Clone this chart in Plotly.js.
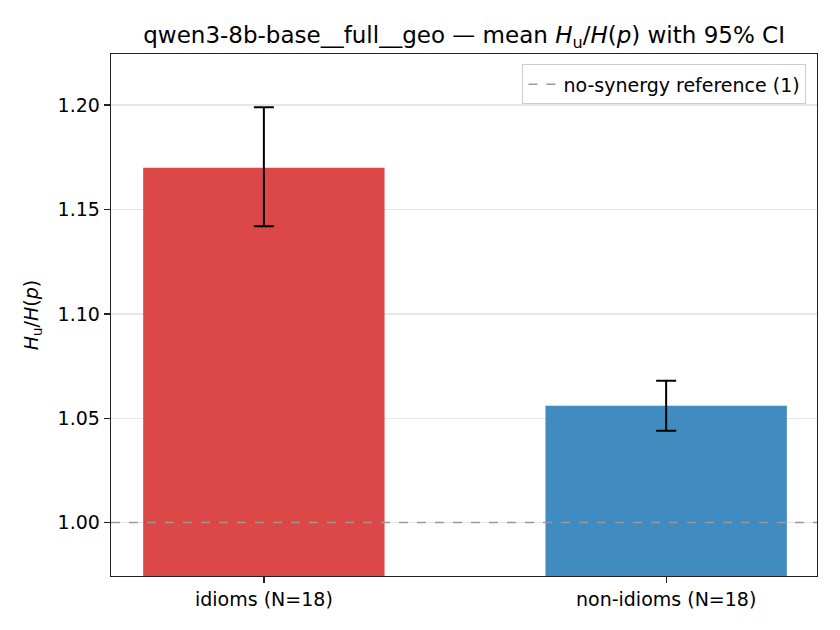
<!DOCTYPE html>
<html>
<head>
<meta charset="utf-8">
<script src="https://cdn.plot.ly/plotly-3.0.1.min.js"></script>
<style>
  html, body { margin: 0; padding: 0; background: #fff; }
  #plot { width: 840px; height: 630px; }
</style>
</head>
<body>
<div id="plot"></div>
<script>
var groups = ['idioms (N=18)', 'non-idioms (N=18)'];
var meanRatio = [1.170, 1.056];
var ciLow = [1.142, 1.044];
var ciHigh = [1.199, 1.068];
var barColors = ['#d62728', '#1f77b4'];
var refValue = 1;

var errPlus = meanRatio.map(function (m, i) { return ciHigh[i] - m; });
var errMinus = meanRatio.map(function (m, i) { return m - ciLow[i]; });

var font = 'DejaVu Sans, sans-serif';

var bars = {
  type: 'bar',
  x: [0, 1],
  y: meanRatio,
  width: 0.6,
  base: 0,
  marker: { color: barColors, opacity: 0.85, line: { width: 0 } },
  error_y: {
    type: 'data',
    symmetric: false,
    array: errPlus,
    arrayminus: errMinus,
    color: '#000',
    thickness: 2,
    width: 10
  },
  showlegend: false,
  hoverinfo: 'skip'
};

var layout = {
  width: 840,
  height: 630,
  margin: { l: 111, r: 23, t: 54, b: 54 },
  paper_bgcolor: '#fff',
  plot_bgcolor: '#fff',
  font: { family: font, size: 19, color: '#000' },
  title: {
    text: 'qwen3-8b-base__full__geo — mean <i>H</i><sub>u</sub>/<i>H</i>(<i>p</i>) with 95% CI',
    font: { family: font, size: 23, color: '#000' },
    x: 0.5525, xanchor: 'center',
    y: 0.945, yanchor: 'middle'
  },
  xaxis: {
    range: [-0.38, 1.375],
    tickmode: 'array',
    tickvals: [0, 1],
    ticktext: groups,
    ticks: 'outside',
    ticklen: 6,
    tickwidth: 1.3,
    tickcolor: '#222',
    showgrid: false,
    zeroline: false,
    showline: true,
    linecolor: '#222',
    linewidth: 1.3,
    mirror: true,
    tickfont: { family: font, size: 19, color: '#000' }
  },
  yaxis: {
    range: [0.9744, 1.2245],
    tickmode: 'array',
    tickvals: [1.00, 1.05, 1.10, 1.15, 1.20],
    tickformat: '.2f',
    ticks: 'outside',
    ticklen: 6,
    tickwidth: 1.3,
    tickcolor: '#222',
    showgrid: true,
    gridcolor: '#e6e6e6',
    gridwidth: 1.3,
    zeroline: false,
    showline: true,
    linecolor: '#222',
    linewidth: 1.3,
    mirror: true,
    tickfont: { family: font, size: 19, color: '#000' },
    title: {
      text: '<i>H</i><sub>u</sub>/<i>H</i>(<i>p</i>)',
      font: { family: font, size: 19, color: '#000' },
      standoff: 14
    }
  },
  shapes: [{
    type: 'line',
    xref: 'paper', x0: 0, x1: 1,
    yref: 'y', y0: refValue, y1: refValue,
    line: { color: '#999', width: 1.5, dash: 'dash' },
    layer: 'above',
    name: 'no-synergy reference (1)',
    showlegend: true
  }],
  showlegend: true,
  legend: {
    x: 0.985, xanchor: 'right',
    y: 0.98, yanchor: 'top',
    bgcolor: 'rgba(255,255,255,0.8)',
    bordercolor: '#ccc',
    borderwidth: 1,
    font: { family: font, size: 19, color: '#000' }
  }
};

Plotly.newPlot('plot', [bars], layout, { displayModeBar: false, staticPlot: true });
</script>
</body>
</html>
